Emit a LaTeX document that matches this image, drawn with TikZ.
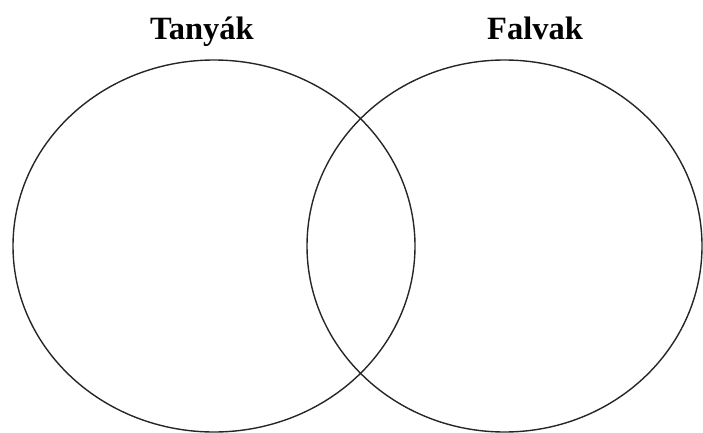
\documentclass[tikz,border=0pt]{standalone}
\usepackage{fontspec}
\setmainfont{Liberation Serif}
\usetikzlibrary{shapes.geometric}
\begin{document}
\begin{tikzpicture}[x=1pt,y=-1pt,
  setshape/.style={draw=black!85, line width=1.4pt, ellipse, inner sep=0pt, outer sep=0pt},
  settitle/.style={font=\fontsize{32.5}{38}\selectfont\bfseries, anchor=base, inner sep=0pt}]
\useasboundingbox (0,0) rectangle (703,433);
\node[setshape, minimum width=402pt, minimum height=372pt] (left) at (214,246) {};
\node[setshape, minimum width=395pt, minimum height=372pt] (right) at (504.5,246) {};
\node[settitle] (tl) at (202,39.5) {Tanyák};
\node[settitle] (tr) at (535,39.5) {Falvak};
\end{tikzpicture}
\end{document}
